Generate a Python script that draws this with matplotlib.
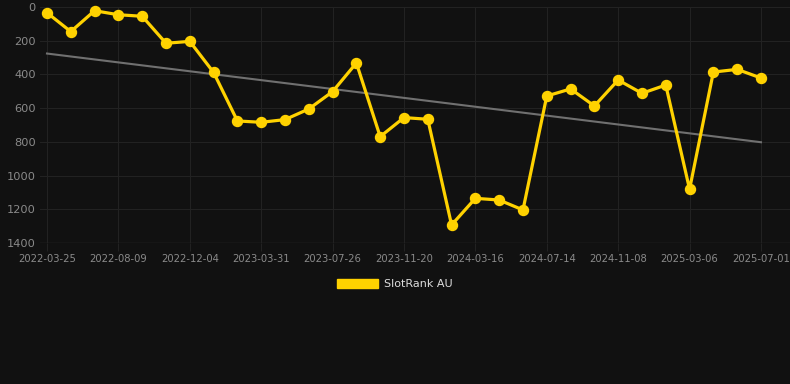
import numpy as np
import matplotlib.pyplot as plt
from matplotlib.patches import Patch

# tick labels shown on the x axis (every 3rd point)
tick_labels = ['2022-03-25', '2022-08-09', '2022-12-04', '2023-03-31', '2023-07-26',
               '2023-11-20', '2024-03-16', '2024-07-14', '2024-11-08', '2025-03-06',
               '2025-07-01']

# rank values (lower = better, axis inverted)
ranks = [34, 146, 22, 46, 55, 215, 204, 388, 676, 684,
         668, 605, 502, 332, 769, 656, 666, 1293, 1135, 1145,
         1204, 528, 486, 587, 433, 512, 463, 1081, 386, 370, 421]

series_name = 'SlotRank AU'

bg = '#111111'
grid_c = '#222222'
text_c = '#8a8a8a'
yellow = '#ffd200'

x = np.arange(len(ranks))
slope, icept = np.polyfit(x, ranks, 1)

fig = plt.figure(figsize=(7.9, 3.84), dpi=100, facecolor=bg)
ax = fig.add_axes([40 / 790, 1 - 243 / 384, 750 / 790, 236 / 384])
ax.set_facecolor(bg)

ax.plot(x, slope * x + icept, color='#707070', lw=1.5, zorder=2)
ax.plot(x, ranks, color=yellow, lw=2.3, marker='o', ms=7.2, zorder=3,
        clip_on=False)

ax.set_xlim(-0.294, 31.22)
ax.set_ylim(1400, 0)
ax.set_yticks(range(0, 1401, 200))
ax.set_xticks(x[::3])
ax.set_xticklabels(tick_labels)

ax.grid(True, color=grid_c, lw=0.8)
ax.tick_params(axis='x', colors=grid_c, length=6, width=0.8, labelcolor=text_c,
               labelsize=7.2, pad=2)
ax.tick_params(axis='y', length=0, labelcolor=text_c, labelsize=8.2, pad=3)
for s in ax.spines.values():
    s.set_visible(False)
ax.axhline(1400, color='#2e2e2e', lw=1, zorder=1)

fig.legend(handles=[Patch(color=yellow, label=series_name)],
           loc='center', bbox_to_anchor=(0.5, 1 - 284 / 384), frameon=False,
           fontsize=8, labelcolor='#dddddd', handlelength=3.7,
           handleheight=0.9, handletextpad=0.5)

fig.savefig('out.png', facecolor=bg)
